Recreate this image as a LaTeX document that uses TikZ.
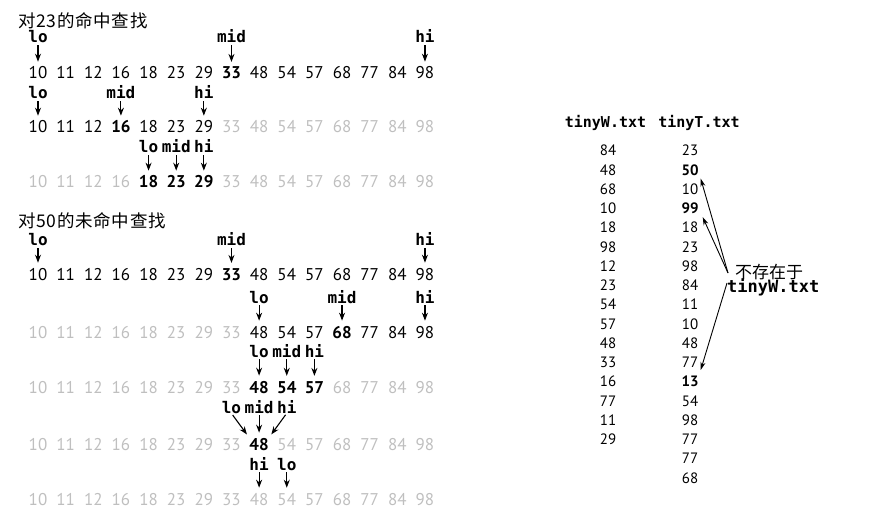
\documentclass[tikz,border=0pt]{standalone}
\usepackage{fontspec}
\setmainfont{PT Sans}
\newfontfamily\cjk[LetterSpace=4]{Noto Sans CJK SC}
\newfontfamily\cjkn{Noto Sans CJK SC}
\newfontfamily\mono{DejaVu Sans Mono}
\usetikzlibrary{arrows.meta}
\tikzset{
  num/.style={inner sep=0pt, anchor=base, font=\fontsize{17}{17}\selectfont},
  numg/.style={num, text=black!25},
  numk/.style={num, text=black},
  numb/.style={num, text=black, font=\fontsize{17}{17}\selectfont\bfseries},
  lbl/.style={inner sep=0pt, anchor=base, font={\mono\bfseries\fontsize{16}{16}\selectfont}},
  arr/.style={line width=1.1pt, -{Stealth[length=8pt,width=6pt]}, shorten <=2pt, shorten >=5pt},
  ttl/.style={inner sep=0pt, anchor=west, font={\cjk\fontsize{17.5}{17.5}\selectfont}},
  rn/.style={inner sep=0pt, anchor=base, font=\fontsize{15}{15}\selectfont},
  rb/.style={rn, font=\fontsize{15}{15}\selectfont\bfseries},
  hdr/.style={inner sep=0pt, anchor=base, font={\mono\bfseries\fontsize{15}{15}\selectfont}},
  note/.style={inner sep=0pt, font={\cjkn\fontsize{17}{17}\selectfont}},
  notew/.style={inner sep=0pt, anchor=base west, font={\mono\bfseries\fontsize{17}{17}\selectfont}},
  rarr/.style={line width=0.9pt, -{Stealth[length=8pt,width=5pt]}},
}
% #1 name, #2 baseline y, #3-#4 black range, #5-#6 bold range
\newcommand\mkrow[6]{%
  \foreach \v [count=\i from 0] in {10,11,12,16,18,23,29,33,48,54,57,68,77,84,98} {%
    \pgfmathtruncatemacro\isblack{(\i>=#3)&&(\i<=#4)}%
    \pgfmathtruncatemacro\isbold{(\i>=#5)&&(\i<=#6)}%
    \ifnum\isbold=1
      \node[numb] (#1-\i) at ({38+27.64*\i},#2) {\v};
    \else\ifnum\isblack=1
      \node[numk] (#1-\i) at ({38+27.64*\i},#2) {\v};
    \else
      \node[numg] (#1-\i) at ({38+27.64*\i},#2) {\v};
    \fi\fi
  }%
}
% #1 node name, #2 text, #3 index, #4 label baseline, #5 row name
\newcommand\mkptr[5]{%
  \node[lbl] (#1) at ({38+27.64*#3},#4) {#2};
  \draw[arr] (#1.south) -- (#5-#3.north);
}
\begin{document}
\begin{tikzpicture}[x=1pt,y=-1pt]
\useasboundingbox (0,0) rectangle (877,510);
% ---- section 1
\node[ttl] (ttlA) at (18,21) {对23的命中查找};
\mkrow{a}{79}{0}{14}{7}{7}
\mkptr{alo}{lo}{0}{43}{a}
\mkptr{amid}{mid}{7}{43}{a}
\mkptr{ahi}{hi}{14}{43}{a}
\mkrow{b}{133}{0}{6}{3}{3}
\mkptr{blo}{lo}{0}{99}{b}
\mkptr{bmid}{mid}{3}{99}{b}
\mkptr{bhi}{hi}{6}{99}{b}
\mkrow{c}{188}{4}{6}{4}{6}
\mkptr{clo}{lo}{4}{153}{c}
\mkptr{cmid}{mid}{5}{153}{c}
\mkptr{chi}{hi}{6}{153}{c}
% ---- section 2
\node[ttl] (ttlB) at (18,221) {对50的未命中查找};
\mkrow{d}{280}{0}{14}{7}{7}
\mkptr{dlo}{lo}{0}{246}{d}
\mkptr{dmid}{mid}{7}{246}{d}
\mkptr{dhi}{hi}{14}{246}{d}
\mkrow{e}{338}{8}{14}{11}{11}
\mkptr{elo}{lo}{8}{303}{e}
\mkptr{emid}{mid}{11}{303}{e}
\mkptr{ehi}{hi}{14}{303}{e}
\mkrow{f}{393}{8}{10}{8}{10}
\mkptr{flo}{lo}{8}{357}{f}
\mkptr{fmid}{mid}{9}{357}{f}
\mkptr{fhi}{hi}{10}{357}{f}
\mkrow{g}{450}{8}{8}{8}{8}
\node[lbl] (glo) at ({38+27.64*7},413) {lo};
\node[lbl] (gmid) at ({38+27.64*8},413) {mid};
\node[lbl] (ghi) at ({38+27.64*9},413) {hi};
\draw[arr, shorten >=4pt] (glo.south) -- (g-8.north west);
\draw[arr] (gmid.south) -- (g-8.north);
\draw[arr, shorten >=4pt] (ghi.south) -- (g-8.north east);
\mkrow{h}{505}{-1}{-1}{-1}{-1}
\mkptr{hhi}{hi}{8}{470}{h}
\mkptr{hlo}{lo}{9}{470}{h}
% ---- right side
\node[hdr] (hw) at (605.5,128) {tinyW.txt};
\node[hdr] (ht) at (699,128) {tinyT.txt};
\foreach \v [count=\i from 0] in {84,48,68,10,18,98,12,23,54,57,48,33,16,77,11,29}
  \node[rn] (ww\i) at (608,{156+19.24*\i}) {\v};
\foreach \v/\s [count=\i from 0] in {23/rn,50/rb,10/rn,99/rb,18/rn,23/rn,98/rn,84/rn,11/rn,10/rn,48/rn,77/rn,13/rb,54/rn,98/rn,77/rn,77/rn,68/rn}
  \node[\s] (tt\i) at (690,{156+19.24*\i}) {\v};
\node[note, anchor=west] (nt) at (735,272) {不存在于};
\node[notew] (nw) at (727,293) {tinyW.txt};
\coordinate (hub1) at (728,273);
\coordinate (hub2) at (727,283);
\draw[rarr] (hub1) -- ([shift={(2,3)}]tt1.south east);
\draw[rarr] (hub1) -- ([shift={(4,3)}]tt3.south east);
\draw[rarr] (hub2) -- ([shift={(2,-6)}]tt12.north east);
\end{tikzpicture}
\end{document}
